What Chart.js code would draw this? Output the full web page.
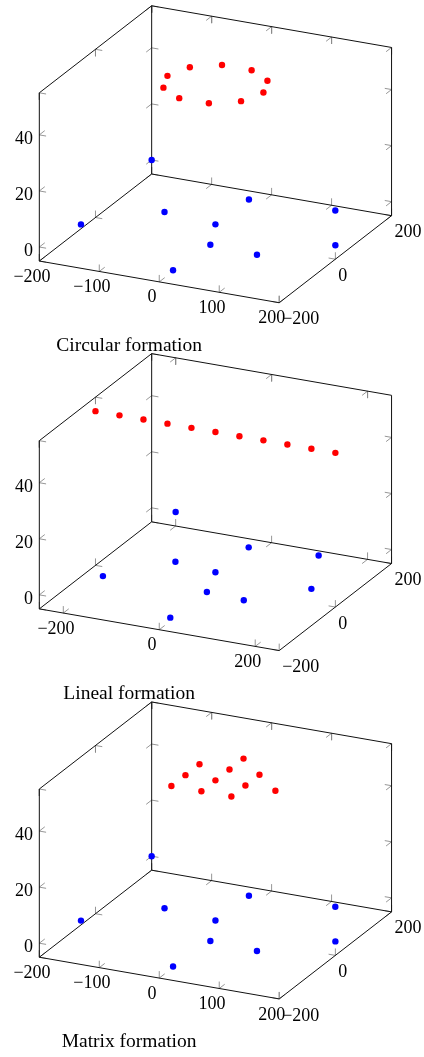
<!DOCTYPE html>
<html><head><meta charset="utf-8">
<script src="https://cdn.jsdelivr.net/npm/chart.js@4.4.1/dist/chart.umd.min.js"></script>
<style>html,body{margin:0;padding:0;background:#fff;}canvas{display:block;}</style>
</head><body>
<canvas id="c" width="424" height="1057"></canvas>
<script>
// ---------- data (3D: x, y, z) ----------
const groundX = [-200, -183, -91, 23, 0, 29, 2, 139, 200, 110];
const groundY = [200, -88, 13, -200, 0, -80, 115, 130, 0, -87];
const groundZ = [0, 0, 0, 0, 0, 0, 0, 0, 0, 0];

const circleX = [80, 64.7, 24.7, -24.7, -64.7, -80, -64.7, -24.7, 24.7, 64.7];
const circleY = [0, 47, 76.1, 76.1, 47, 0, -47, -76.1, -76.1, -47];
const circleZ = [50, 50, 50, 50, 50, 50, 50, 50, 50, 50];

const lineX = [-250, -200, -150, -100, -50, 0, 50, 100, 150, 200, 250];
const lineY = [0, 0, 0, 0, 0, 0, 0, 0, 0, 0, 0];
const lineZ = [50, 50, 50, 50, 50, 50, 50, 50, 50, 50, 50];

const matrixX = [-50, -50, -50, 0, 0, 0, 50, 50, 50, 0, 100];
const matrixY = [-50, 0, 50, -50, 0, 50, -50, 0, 50, 100, 0];
const matrixZ = [50, 50, 50, 50, 50, 50, 50, 50, 50, 50, 50];

const captions = ['Circular formation', 'Lineal formation', 'Matrix formation'];
const xTicksA = [-200, -100, 0, 100, 200];
const xTicksB = [-200, 0, 200];
const yTicks = [-200, 0, 200];
const zTicks = [0, 20, 40];
const xRanges = [[-200, 200], [-250, 250], [-200, 200]];
const yRange = [-200, 200];
const zRange = [-5, 55];

// ---------- layout (screen geometry of the oblique box) ----------
const CX = 36;
const CY = [259, 609.5, 960.5];
const EX = {x: 244.5, y: 42}, EY = {x: 114.5, y: -87.7}, EZ = {x: 0, y: -169.5};
const TICK_LEN = 7;

const panels = [
  {xr: xRanges[0], xt: xTicksA, red: [circleX, circleY, circleZ]},
  {xr: xRanges[1], xt: xTicksB, red: [lineX, lineY, lineZ]},
  {xr: xRanges[2], xt: xTicksA, red: [matrixX, matrixY, matrixZ]},
];

function projN(i, u, v, w) { // normalized box coords -> 2D
  return {x: CX + u*EX.x + v*EY.x + w*EZ.x, y: CY[i] + u*EX.y + v*EY.y + w*EZ.y};
}
function proj(i, x, y, z) {
  const xr = panels[i].xr;
  return projN(i, (x-xr[0])/(xr[1]-xr[0]), (y-yRange[0])/(yRange[1]-yRange[0]), (z-zRange[0])/(zRange[1]-zRange[0]));
}
function unit(v){ const l=Math.hypot(v.x,v.y); return {x:v.x/l,y:v.y/l}; }
const dirs = {x: unit(EX), y: unit(EY), z: unit(EZ)};

function pts(i, X, Y, Z){ return X.map((_,k)=>proj(i, X[k], Y[k], Z[k])); }

function boxData(i){
  const d = [];
  const seg = (a,b)=>{ d.push(projN(i,...a), projN(i,...b), {x:0,y:null}); };
  seg([0,0,0],[1,0,0]); seg([1,0,0],[1,1,0]); seg([0,0,0],[0,1,0]); seg([0,1,0],[1,1,0]);
  seg([0,0,0],[0,0,1]); seg([0,1,0],[0,1,1]); seg([1,1,0],[1,1,1]);
  seg([0,0,1],[0,1,1]); seg([0,1,1],[1,1,1]);
  return d;
}
function tickData(i){
  const d = [];
  const p = panels[i];
  const norm = {
    x: t => (t-p.xr[0])/(p.xr[1]-p.xr[0]),
    y: t => (t-yRange[0])/(yRange[1]-yRange[0]),
    z: t => (t-zRange[0])/(zRange[1]-zRange[0]),
  };
  const ticks = {x: p.xt, y: yTicks, z: zTicks};
  // [axis, otherAxis1, side1, otherAxis2, side2]
  const edges = [
    ['x','y',0,'z',0], ['x','y',1,'z',0], ['x','y',1,'z',1],
    ['y','x',1,'z',0], ['y','x',0,'z',0], ['y','x',0,'z',1],
    ['z','x',0,'y',0], ['z','x',0,'y',1], ['z','x',1,'y',1],
  ];
  edges.forEach(([a,b,sb,c,sc])=>{
    ticks[a].forEach(t=>{
      const n = {}; n[a]=norm[a](t); n[b]=sb; n[c]=sc;
      const P = projN(i, n.x, n.y, n.z);
      [[b,sb],[c,sc]].forEach(([ax,s])=>{
        const sg = s===0 ? 1 : -1;
        d.push({x:P.x, y:P.y}, {x:P.x+sg*TICK_LEN*dirs[ax].x, y:P.y+sg*TICK_LEN*dirs[ax].y}, {x:0,y:null});
      });
    });
  });
  return d;
}

const datasets = [];
panels.forEach((p,i)=>{
  datasets.push({type:'scatter', data: pts(i, groundX, groundY, groundZ), backgroundColor:'#0000ff', borderWidth:0, pointRadius:3.2, order:0, clip:false});
  datasets.push({type:'scatter', data: pts(i, ...p.red), backgroundColor:'#ff0000', borderWidth:0, pointRadius:3.2, order:0, clip:false});
  datasets.push({type:'line', data: tickData(i), borderColor:'#8a8a8a', borderWidth:0.9, pointRadius:0, spanGaps:false, tension:0, order:2, clip:false});
  datasets.push({type:'line', data: boxData(i), borderColor:'#111', borderWidth:1, pointRadius:0, spanGaps:false, tension:0, order:1, clip:false});
});

const fmt = v => v < 0 ? '\u2212' + Math.abs(v) : String(v);

const textPlugin = {
  id: 'text3d',
  afterDatasetsDraw(chart){
    const {ctx} = chart; const sx = chart.scales.x, sy = chart.scales.y;
    const P = (q, dx, dy) => [sx.getPixelForValue(q.x+dx), sy.getPixelForValue(q.y+dy)];
    ctx.save();
    ctx.fillStyle = '#000';
    ctx.font = '18px "Liberation Serif", serif';
    panels.forEach((p,i)=>{
      ctx.textBaseline = 'middle';
      ctx.textAlign = 'center';
      p.xt.forEach(v=>{ const q = proj(i, v, yRange[0], zRange[0]); ctx.fillText(fmt(v), ...P(q, -7.5, 16)); });
      ctx.textAlign = 'left';
      yTicks.forEach(v=>{ const q = proj(i, p.xr[1], v, zRange[0]); ctx.fillText(fmt(v), ...P(q, 3, 17)); });
      ctx.textAlign = 'right';
      zTicks.forEach(v=>{ const q = proj(i, p.xr[0], yRange[0], v); ctx.fillText(fmt(v), ...P(q, -6.5, 4.5)); });
    });
    ctx.font = '19.5px "Liberation Serif", serif';
    ctx.textAlign = 'center'; ctx.textBaseline = 'alphabetic';
    panels.forEach((p,i)=>{ ctx.fillText(captions[i], ...P({x:127.5, y:CY[i]}, 0, 90.5)); });
    ctx.restore();
  }
};

new Chart(document.getElementById('c'), {
  data: {datasets},
  options: {
    responsive: false, animation: false, devicePixelRatio: 1,
    layout: {padding: 0},
    plugins: {legend:{display:false}, tooltip:{enabled:false}, title:{display:false}},
    scales: {
      x: {type:'linear', min:0, max:424, display:false},
      y: {type:'linear', min:0, max:1057, reverse:true, display:false}
    },
    events: []
  },
  plugins: [textPlugin]
});
</script>
</body></html>
